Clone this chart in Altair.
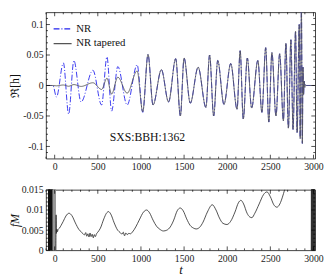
import altair as alt
import pandas as pd

SERIF = "Liberation Serif"

# ---------------- top panel: Re[h] extrema ----------------
t_h = [-100, -20, 21, 101, 162, 223, 306, 443, 544, 606,
       660, 732, 840, 956, 1021, 1082, 1140, 1237, 1320, 1403,
       1457, 1500, 1572, 1663, 1753, 1796, 1843, 1890, 1962, 2041,
       2114, 2150, 2186, 2233, 2283, 2355, 2402, 2446, 2482, 2518,
       2565, 2608, 2651, 2680, 2709, 2738, 2763, 2792, 2810, 2835,
       2846, 2860, 2871, 2878, 2885, 2892, 2899, 2906, 2918, 3020]
h_nr = [0, 0, -0.019, 0.037, -0.047, 0.041, -0.027, 0.025, -0.032, 0.047,
        -0.042, 0.031, -0.032, 0.034, -0.044, 0.051, -0.032, 0.026, -0.027, 0.044,
        -0.050, 0.045, -0.029, 0.030, -0.036, 0.050, -0.050, 0.041, -0.031, 0.036,
        -0.039, 0.057, -0.055, 0.045, -0.037, 0.041, -0.044, 0.062, -0.060, 0.054,
        -0.050, 0.052, -0.058, 0.069, -0.070, 0.075, -0.072, 0.089, -0.077, 0.100,
        -0.087, 0.125, -0.095, 0.030, -0.015, 0.007, -0.003, 0.001, 0, 0]
h_tap = [0, 0, -0.0005, 0.0008, -0.0012, 0.0015, -0.0015, 0.0045, -0.0065, 0.012,
         -0.014, 0.0136, -0.0126, 0.024, -0.043, 0.051, -0.032, 0.026, -0.027, 0.044,
         -0.050, 0.045, -0.029, 0.030, -0.036, 0.050, -0.050, 0.041, -0.031, 0.036,
         -0.039, 0.057, -0.055, 0.045, -0.037, 0.041, -0.044, 0.062, -0.060, 0.054,
         -0.050, 0.052, -0.058, 0.069, -0.070, 0.075, -0.072, 0.089, -0.077, 0.100,
         -0.087, 0.125, -0.095, 0.030, -0.015, 0.007, -0.003, 0.001, 0, 0]
series_names = ["NR", "NR tapered"]
series_colors = ["#2222ee", "#555555"]

ann_label = "SXS:BBH:1362"
ann_t = 1075
ann_h = -0.085

# ---------------- bottom panel: f M ----------------
t_f = [14, 17, 20, 26, 32, 40, 55, 75, 100, 130, 166, 200, 240, 280, 310, 330,
       345, 360, 372, 385, 398, 410, 422, 435, 448, 460, 472, 485, 500, 530, 570,
       600, 624, 650, 690, 730, 760, 780, 795, 810, 825, 840, 860, 880, 900, 940,
       980, 1030, 1065, 1100, 1140, 1180, 1220, 1260, 1300, 1340, 1380, 1420, 1455,
       1490, 1530, 1570, 1610, 1640, 1680, 1720, 1770, 1827, 1870, 1910, 1950,
       1997, 2040, 2090, 2130, 2159, 2190, 2230, 2260, 2286, 2320, 2370, 2420,
       2460, 2500, 2540, 2575, 2610, 2640, 2665, 2700]
f_val = [0.0, 0.0088, 0.0042, 0.0052, 0.0046, 0.0052, 0.0055, 0.0062, 0.0072, 0.0085,
         0.0092, 0.0086, 0.0068, 0.0052, 0.0045, 0.0041,
         0.0038, 0.0044, 0.0035, 0.0041, 0.0033, 0.0043, 0.0034, 0.0040, 0.0031,
         0.0039, 0.0034, 0.0041, 0.0045, 0.0055, 0.0078,
         0.0092, 0.0096, 0.0090, 0.0068, 0.0050, 0.0044, 0.0040, 0.0045, 0.0036,
         0.0043, 0.0039, 0.0042, 0.0041, 0.0045, 0.0058,
         0.0075, 0.0095, 0.0100, 0.0093, 0.0075, 0.0060, 0.0052, 0.0048, 0.0050,
         0.0058, 0.0075, 0.0098, 0.0105,
         0.0098, 0.0078, 0.0062, 0.0055, 0.0053, 0.0057, 0.0070, 0.0095, 0.0113,
         0.0100, 0.0080, 0.0067,
         0.0064, 0.0072, 0.0095, 0.0118, 0.0124, 0.0115, 0.0092, 0.0083, 0.0081,
         0.0092, 0.0115, 0.0138,
         0.0145, 0.0133, 0.0113, 0.0107, 0.0115, 0.0132, 0.0150, 0.0180]

# junk radiation at the start / end (vertical bursts)
t_nl = [-72, -70, -68, -66, -63, -61, -58, -56, -53, -51, -48, -46, -43, -41,
        -38, -36, -33, -31, -28, -26, -23, -21]
f_nl = [0.02, 0, 0.02, 0, 0.02, 0, 0.02, 0, 0.02, 0, 0.02, 0, 0.02, 0,
        0.02, 0, 0.02, 0, 0.02, 0, 0.02, 0]
t_ng = [-19, -17, -15, -13, -11, -9, -7, -5, -3, -1, 1, 3, 5, 7, 9, 11]
f_ng = [0.02, 0, 0.02, 0, 0.02, 0, 0.02, 0, 0.02, 0, 0.02, 0, 0.02, 0, 0.02, 0]
t_nr = [2974, 2976, 2978, 2980, 2982, 2984, 2986, 2988, 2990, 2992, 2994, 2996,
        2998, 3000, 3002, 3004, 3006, 3008, 3010, 3012, 3014]
f_nr = [0, 0.02, 0, 0.02, 0, 0.02, 0, 0.02, 0, 0.02, 0, 0.02,
        0, 0.02, 0, 0.02, 0, 0.02, 0, 0.02, 0]

# ---------------- axes ----------------
XDOM = [-100, 3020]
Y1DOM = [-0.12, 0.12]
Y2DOM = [0, 0.015]
x_major = [0, 500, 1000, 1500, 2000, 2500, 3000]
x_minor = [v for v in range(-100, 3001, 100) if v % 500 != 0]
y1_major = [-0.1, -0.05, 0, 0.05, 0.1]
y1_minor = [-0.11, -0.09, -0.08, -0.07, -0.06, -0.04, -0.03, -0.02, -0.01,
            0.01, 0.02, 0.03, 0.04, 0.06, 0.07, 0.08, 0.09, 0.11]
y2_major = [0, 0.005, 0.01, 0.015]
y2_minor = [0.001, 0.002, 0.003, 0.004, 0.006, 0.007, 0.008, 0.009, 0.011, 0.012, 0.013, 0.014]

W = 276
H1 = 150
H2 = 62
LABEL_EXPR = "replace(format(datum.value, '~g'), '\u2212', '-')"


def x_axis(title):
    kw = dict(values=x_major, format="d", ticks=False, domain=False, grid=False,
              labelFont=SERIF, labelFontSize=10, labelPadding=3, labelColor="#222")
    if title:
        kw.update(title=title, titleFont=SERIF, titleFontSize=13, titleFontStyle="italic",
                  titleFontWeight="normal", titlePadding=1, titleColor="#111")
    else:
        kw.update(title="")
    return alt.Axis(**kw)


def y_axis(values, title, italic):
    return alt.Axis(values=values, labelExpr=LABEL_EXPR, ticks=False, domain=False, grid=False,
                    labelFont=SERIF, labelFontSize=10, labelPadding=3, labelColor="#222",
                    minExtent=25, maxExtent=25, title=title, titleFont=SERIF,
                    titleFontSize=12, titleFontWeight="normal",
                    titleFontStyle="italic" if italic else "normal",
                    titlePadding=0, titleColor="#111")


def tick_layers(xdom, ydom, xax, yax, xmaj, xmin, ymaj, ymin, w, h):
    layers = []
    for vals, L in [(xmaj, 4), (xmin, 2)]:
        base = alt.Chart(pd.DataFrame({"v": vals})).mark_rule(color="black", strokeWidth=0.7)
        xe = alt.X("v:Q", scale=alt.Scale(domain=xdom, nice=False, zero=False), axis=xax)
        layers.append(base.encode(x=xe, y=alt.value(h), y2=alt.value(h - L)))
        layers.append(base.encode(x=xe, y=alt.value(0), y2=alt.value(L)))
    for vals, L in [(ymaj, 4), (ymin, 2)]:
        base = alt.Chart(pd.DataFrame({"v": vals})).mark_rule(color="black", strokeWidth=0.7)
        ye = alt.Y("v:Q", scale=alt.Scale(domain=ydom, nice=False, zero=False), axis=yax)
        layers.append(base.encode(y=ye, x=alt.value(0), x2=alt.value(L)))
        layers.append(base.encode(y=ye, x=alt.value(w), x2=alt.value(w - L)))
    return layers


# ---------------- top panel ----------------
n = len(t_h)
assert len(h_nr) == n and len(h_tap) == n
df_h = pd.DataFrame({
    "t": t_h + t_h,
    "h": h_nr + h_tap,
    "s": [series_names[0]] * n + [series_names[1]] * n,
})

XAX1 = x_axis(None)
YAX1 = y_axis(y1_major, "\u211c[h]", False)

leg = alt.Legend(title=None, orient="top-left", offset=5, labelFont=SERIF, labelFontSize=11,
                 symbolType="stroke", symbolSize=340, symbolStrokeWidth=1.2,
                 rowPadding=0, padding=2, labelOffset=4, labelColor="#111")

xs1 = alt.Scale(domain=XDOM, nice=False, zero=False)
ys1 = alt.Scale(domain=Y1DOM, nice=False, zero=False)

lines = alt.Chart(df_h).mark_line(interpolate="monotone", clip=True, strokeWidth=0.9).encode(
    x=alt.X("t:Q", scale=xs1, axis=XAX1),
    y=alt.Y("h:Q", scale=ys1, axis=YAX1),
    color=alt.Color("s:N", scale=alt.Scale(domain=series_names, range=series_colors), legend=leg),
    strokeDash=alt.StrokeDash("s:N", scale=alt.Scale(domain=series_names, range=[[6, 2, 1, 2], [1, 0]]),
                              legend=leg),
    order=alt.Order("t:Q"),
)

ann = alt.Chart(pd.DataFrame({"t": [ann_t], "h": [ann_h], "label": [ann_label]})).mark_text(
    font=SERIF, fontSize=12, color="#111").encode(
    x=alt.X("t:Q", scale=xs1, axis=XAX1),
    y=alt.Y("h:Q", scale=ys1, axis=YAX1),
    text="label:N",
)

top = alt.layer(lines, ann,
                *tick_layers(XDOM, Y1DOM, XAX1, YAX1, x_major, x_minor, y1_major, y1_minor, W, H1)
                ).properties(width=W, height=H1)

# ---------------- bottom panel ----------------
XAX2 = x_axis("t")
YAX2 = y_axis(y2_major, "fM", True)
xs2 = alt.Scale(domain=XDOM, nice=False, zero=False)
ys2 = alt.Scale(domain=Y2DOM, nice=False, zero=False)


def fline(ts, fs, color, width, interp):
    return alt.Chart(pd.DataFrame({"t": ts, "f": fs})).mark_line(
        clip=True, color=color, strokeWidth=width, interpolate=interp).encode(
        x=alt.X("t:Q", scale=xs2, axis=XAX2),
        y=alt.Y("f:Q", scale=ys2, axis=YAX2),
        order=alt.Order("t:Q"),
    )


bottom = alt.layer(
    fline(t_nl, f_nl, "#111111", 1.0, "linear"),
    fline(t_ng, f_ng, "#999999", 1.0, "linear"),
    fline(t_nr, f_nr, "#333333", 1.0, "linear"),
    fline(t_f, f_val, "#222222", 0.8, "monotone"),
    *tick_layers(XDOM, Y2DOM, XAX2, YAX2, x_major, x_minor, y2_major, y2_minor, W, H2),
).properties(width=W, height=H2)

chart = alt.vconcat(top, bottom, spacing=12).properties(
    padding=0, background="white").configure_view(stroke="#111111", strokeWidth=0.8)

chart.save("out.html", embed_options={"renderer": "svg", "actions": False})
